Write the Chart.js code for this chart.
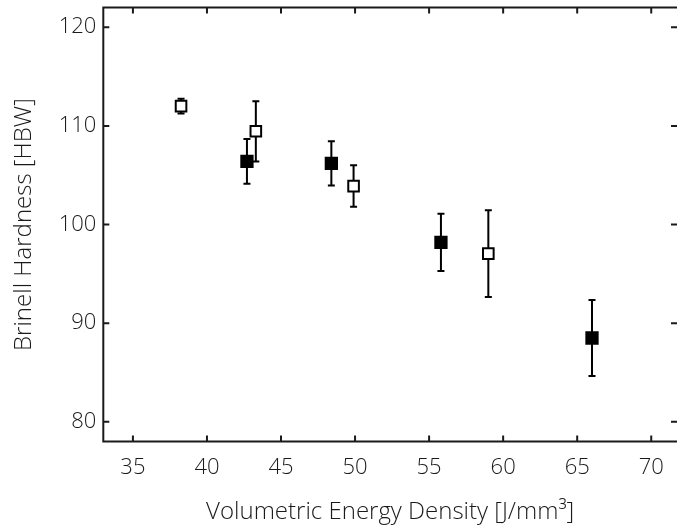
<!DOCTYPE html>
<html>
<head>
<meta charset="utf-8">
<script src="https://cdn.jsdelivr.net/npm/chart.js@4.4.0/dist/chart.umd.min.js"></script>
<style>
  html, body { margin: 0; padding: 0; background: #fff; }
  #wrap { width: 677px; height: 529px; }
</style>
</head>
<body>
<div id="wrap"><canvas id="c" width="677" height="529"></canvas></div>
<script>
// DATA
const openX = [38.25, 43.3, 49.9, 59.0];
const openY = [112.0, 109.45, 103.9, 97.05];
const openErr = [0.75, 3.05, 2.1, 4.4];

const filledX = [42.7, 48.4, 55.8, 66.0];
const filledY = [106.4, 106.2, 98.2, 88.5];
const filledErr = [2.27, 2.25, 2.9, 3.85];

const xTicks = [35, 40, 45, 50, 55, 60, 65, 70];
const yTicks = [80, 90, 100, 110, 120];

const FONT = "'Open Sans', sans-serif";
const INK = "#1a1a1a";

const pts = (xs, ys, es) => xs.map((x, i) => ({ x: x, y: ys[i], err: es[i] }));

// error bars behind the markers
const errorBars = {
  id: "errorBars",
  beforeDatasetsDraw(chart) {
    const ctx = chart.ctx;
    const xs = chart.scales.x, ys = chart.scales.y;
    ctx.save();
    ctx.strokeStyle = "#000";
    ctx.lineWidth = 2;
    chart.data.datasets.forEach((ds) => {
      ds.data.forEach((p) => {
        const px = xs.getPixelForValue(p.x);
        const top = ys.getPixelForValue(p.y + p.err);
        const bot = ys.getPixelForValue(p.y - p.err);
        ctx.beginPath();
        ctx.moveTo(px, top); ctx.lineTo(px, bot);
        ctx.moveTo(px - 3.5, top); ctx.lineTo(px + 3.5, top);
        ctx.moveTo(px - 3.5, bot); ctx.lineTo(px + 3.5, bot);
        ctx.stroke();
      });
    });
    ctx.restore();
  }
};

// box frame with inward ticks on all four sides
const frame = {
  id: "frame",
  afterDraw(chart) {
    const ctx = chart.ctx;
    const a = chart.chartArea;
    const xs = chart.scales.x, ys = chart.scales.y;
    const len = 6;
    ctx.save();
    ctx.strokeStyle = INK;
    ctx.lineWidth = 2;
    ctx.beginPath();
    ctx.moveTo(a.left - 1, a.top); ctx.lineTo(a.right + 2, a.top);
    ctx.moveTo(a.left, a.top); ctx.lineTo(a.left, a.bottom);
    ctx.moveTo(a.left - 1, a.bottom); ctx.lineTo(a.right + 2, a.bottom);
    ctx.moveTo(a.right + 1, a.top); ctx.lineTo(a.right + 1, a.bottom);
    xTicks.forEach((v) => {
      const px = xs.getPixelForValue(v);
      ctx.moveTo(px, a.bottom); ctx.lineTo(px, a.bottom - len);
      ctx.moveTo(px, a.top); ctx.lineTo(px, a.top + len);
    });
    yTicks.forEach((v) => {
      const py = ys.getPixelForValue(v);
      ctx.moveTo(a.left, py); ctx.lineTo(a.left + len, py);
      ctx.moveTo(a.right, py); ctx.lineTo(a.right - len, py);
    });
    ctx.stroke();
    ctx.restore();
  }
};

new Chart(document.getElementById("c"), {
  type: "scatter",
  data: {
    datasets: [
      {
        label: "open",
        data: pts(openX, openY, openErr),
        pointStyle: "rect",
        pointRadius: 7.5,
        pointHoverRadius: 7.5,
        backgroundColor: "#fff",
        borderColor: "#000",
        borderWidth: 2,
      },
      {
        label: "filled",
        data: pts(filledX, filledY, filledErr),
        pointStyle: "rect",
        pointRadius: 9.4,
        pointHoverRadius: 9.4,
        backgroundColor: "#000",
        borderColor: "#000",
        borderWidth: 0,
      },
    ],
  },
  options: {
    responsive: false,
    animation: false,
    devicePixelRatio: 1,
    layout: { autoPadding: false, padding: { top: 7.5, right: 0, left: 0, bottom: 0 } },
    plugins: { legend: { display: false }, tooltip: { enabled: false } },
    scales: {
      x: {
        type: "linear",
        min: 33,
        max: 71.74,
        afterFit: (s) => { s.height = 87.4; s.paddingLeft = 0; s.paddingRight = 0; },
        afterBuildTicks: (s) => { s.ticks = xTicks.map((v) => ({ value: v })); },
        grid: { display: false, drawTicks: false },
        border: { display: false },
        ticks: { color: INK, padding: 13, font: { family: FONT, size: 22, weight: 300 } },
        title: {
          display: true,
          text: "Volumetric Energy Density [J/mm\u00B3]",
          color: INK,
          font: { family: FONT, size: 24, weight: 300 },
          padding: { top: 0, bottom: 2 },
        },
      },
      y: {
        type: "linear",
        min: 78,
        max: 122,
        afterFit: (s) => { s.width = 103.3; s.paddingTop = 0; s.paddingBottom = 0; },
        afterBuildTicks: (s) => { s.ticks = yTicks.map((v) => ({ value: v })); },
        grid: { display: false, drawTicks: false },
        border: { display: false },
        ticks: { color: INK, padding: 7, font: { family: FONT, size: 22, weight: 300 } },
        title: {
          display: true,
          text: "Brinell Hardness [HBW]",
          color: INK,
          font: { family: FONT, size: 24, weight: 300 },
          padding: { top: 10, bottom: 0 },
        },
      },
    },
  },
  plugins: [errorBars, frame],
});
</script>
</body>
</html>
